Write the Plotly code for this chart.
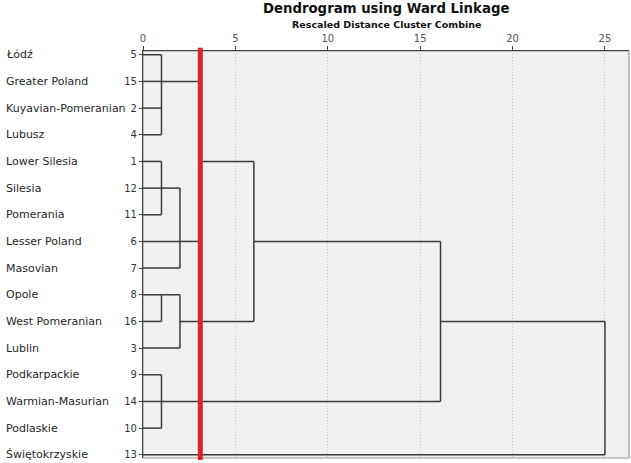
import plotly.graph_objects as go

# Leaf order (top to bottom) with case numbers
regions = ["Łódź", "Greater Poland", "Kuyavian-Pomeranian", "Lubusz",
           "Lower Silesia", "Silesia", "Pomerania", "Lesser Poland",
           "Masovian", "Opole", "West Pomeranian", "Lublin",
           "Podkarpackie", "Warmian-Masurian", "Podlaskie", "Świętokrzyskie"]
case_ids = [5, 15, 2, 4, 1, 12, 11, 6, 7, 8, 16, 3, 9, 14, 10, 13]

# Agglomeration steps: name, members, rescaled distance, case whose row carries the link onward
merge_names = ["A", "B1", "B", "C1", "C", "D", "AB", "ABC", "ABCD", "ALL"]
merge_members = [[5, 15, 2, 4], [1, 12, 11], ["B1", 6, 7], [8, 16], ["C1", 3],
                 [9, 14, 10], ["A", "B"], ["AB", "C"], ["ABC", "D"], ["ABCD", 13]]
merge_dist = [1.0, 1.0, 2.0, 1.0, 2.0, 1.0, 3.1, 6.0, 16.1, 25.0]
merge_exit = [15, 12, 6, 8, 16, 14, 1, 6, 16, None]

cut_level = 3.1
x_ticks = [0, 5, 10, 15, 20, 25]

row_of = {c: i for i, c in enumerate(case_ids)}
# current (x, row) of every cluster's outgoing link
node = {c: (0.0, row_of[c]) for c in case_ids}

xs, ys = [], []
for name, members, d, ex in zip(merge_names, merge_members, merge_dist, merge_exit):
    rows = []
    for m in members:
        x0, r = node[m]
        xs += [x0, d, None]
        ys += [r, r, None]
        rows.append(r)
    xs += [d, d, None]
    ys += [min(rows), max(rows), None]
    if ex is not None:
        node[name] = (d, row_of[ex])

fig = go.Figure()
fig.add_trace(go.Scatter(x=xs, y=ys, mode="lines",
                         line=dict(color="#3a3a3a", width=1.5),
                         hoverinfo="skip", showlegend=False))

font_family = "DejaVu Sans"

for i, name in enumerate(regions):
    fig.add_annotation(x=-0.287, y=i, xref="paper", yref="y", text=name,
                       showarrow=False, xanchor="left", yanchor="middle",
                       font=dict(family=font_family, size=11, color="#262626"))

fig.add_annotation(x=0.5, y=1.066, xref="paper", yref="paper",
                   text="<b>Rescaled Distance Cluster Combine</b>",
                   showarrow=False, xanchor="center", yanchor="middle",
                   font=dict(family=font_family, size=9.5, color="#111"))

# plot frame (right and bottom edges are lighter than the axes)
fig.add_shape(type="rect", xref="paper", yref="paper", x0=0, y0=0, x1=1, y1=1,
              line=dict(color="#9a9a9a", width=1.2), layer="below")

# cut line
fig.add_shape(type="line", xref="x", yref="paper", x0=cut_level, x1=cut_level,
              y0=-0.005, y1=1.008, line=dict(color="#d9232d", width=5), layer="above")

fig.update_layout(
    width=631, height=463,
    margin=dict(l=143, r=2, t=51, b=5),
    paper_bgcolor="white", plot_bgcolor="#f0f0f0",
    title=dict(text="<b>Dendrogram using Ward Linkage</b>", x=0.612, xanchor="center",
               y=0.981, yanchor="middle",
               font=dict(family=font_family, size=13.3, color="#111")),
    font=dict(family=font_family),
    xaxis=dict(side="top", range=[0, 26.3], tickvals=x_ticks,
               showline=True, linecolor="#444", linewidth=1.2,
               ticks="outside", ticklen=4, tickcolor="#444",
               tickfont=dict(size=10, color="#555"),
               showgrid=True, gridcolor="#c8c8c8", griddash="1px,2px", gridwidth=1,
               zeroline=False, fixedrange=True),
    yaxis=dict(range=[15.12, -0.14], tickvals=list(range(len(case_ids))),
               ticktext=[str(c) for c in case_ids],
               showline=True, linecolor="#444", linewidth=1.2,
               ticks="outside", ticklen=3, tickcolor="#444",
               tickfont=dict(size=10, color="#333"),
               showgrid=False, zeroline=False, fixedrange=True),
)

fig.write_html("out.html")
